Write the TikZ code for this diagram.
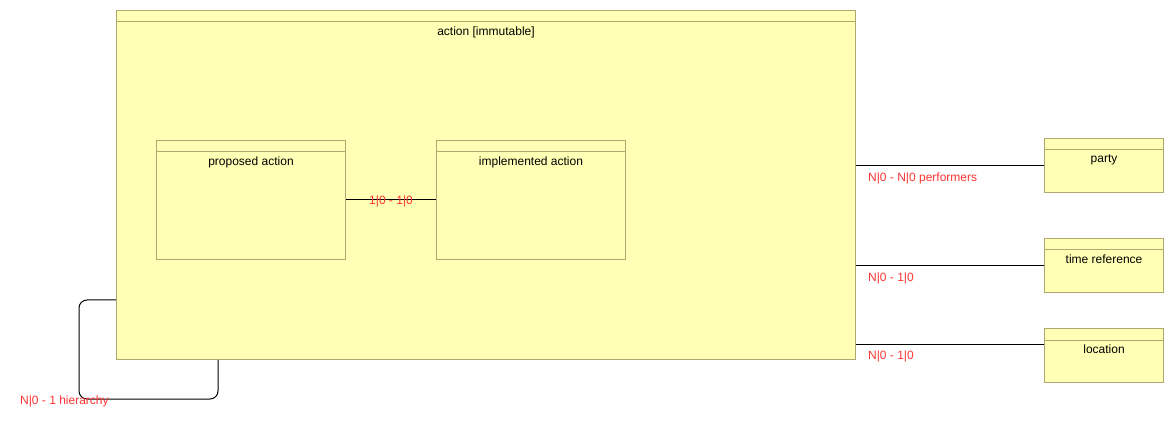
\documentclass[tikz,border=0pt]{standalone}
\usepackage{fontspec}
\setmainfont{Liberation Sans}
\definecolor{boxfill}{RGB}{255,255,181}
\definecolor{boxline}{RGB}{176,168,112}
\definecolor{lblred}{RGB}{255,50,50}
\begin{document}
\begin{tikzpicture}[x=1pt,y=-1pt,
  font=\fontsize{12}{14}\selectfont,
  entity/.style={draw=boxline,fill=boxfill,line width=1pt,rectangle,inner sep=0pt,anchor=north west},
  conn/.style={draw=black,line width=1pt},
  lbl/.style={text=lblred,inner sep=0pt}]
\useasboundingbox (0,0) rectangle (1174,427);
% boxes
\node[entity,minimum width=739pt,minimum height=349pt] (action) at (116,10) {};
\node[entity,minimum width=189pt,minimum height=119pt] (proposed) at (156,140) {};
\node[entity,minimum width=189pt,minimum height=119pt] (implemented) at (436,140) {};
\node[entity,minimum width=119pt,minimum height=54pt] (party) at (1044,138) {};
\node[entity,minimum width=119pt,minimum height=54pt] (timeref) at (1044,238) {};
\node[entity,minimum width=119pt,minimum height=54pt] (location) at (1044,328) {};
% header lines and titles
\foreach \n/\t in {action/{action [immutable]},proposed/{proposed action},implemented/{implemented action},party/{party},timeref/{time reference},location/{location}}{
  \draw[boxline,line width=1pt] ([yshift=-12pt]\n.north west) -- ([yshift=-12pt]\n.north east);
  \node[anchor=north,inner sep=0pt] (\n-title) at ([yshift=-16.5pt]\n.north) {\t};
}
% connectors
\draw[conn] (proposed.east) -- (implemented.west);
\node[lbl] (l1) at (391,201.5) {1|0 - 1|0};
\draw[conn] (party.west) -- (party.west -| action.east);
\node[lbl,anchor=north west] (l2) at (868,172.5) {N|0 - N|0 performers};
\draw[conn] (timeref.west) -- (timeref.west -| action.east);
\node[lbl,anchor=north west] (l3) at (868,272.5) {N|0 - 1|0};
\draw[conn] ([yshift=11pt]location.west) -- ([yshift=11pt]location.west -| action.east);
\node[lbl,anchor=north west] (l4) at (868,350.5) {N|0 - 1|0};
% self loop
\coordinate (loopa) at (79,399);
\draw[conn,rounded corners=8pt] ([yshift=60pt]action.south west) -| (loopa) -| ([xshift=102pt]action.south west);
\node[lbl,anchor=north west] (l5) at (20,395.5) {N|0 - 1 hierarchy};
\end{tikzpicture}
\end{document}
